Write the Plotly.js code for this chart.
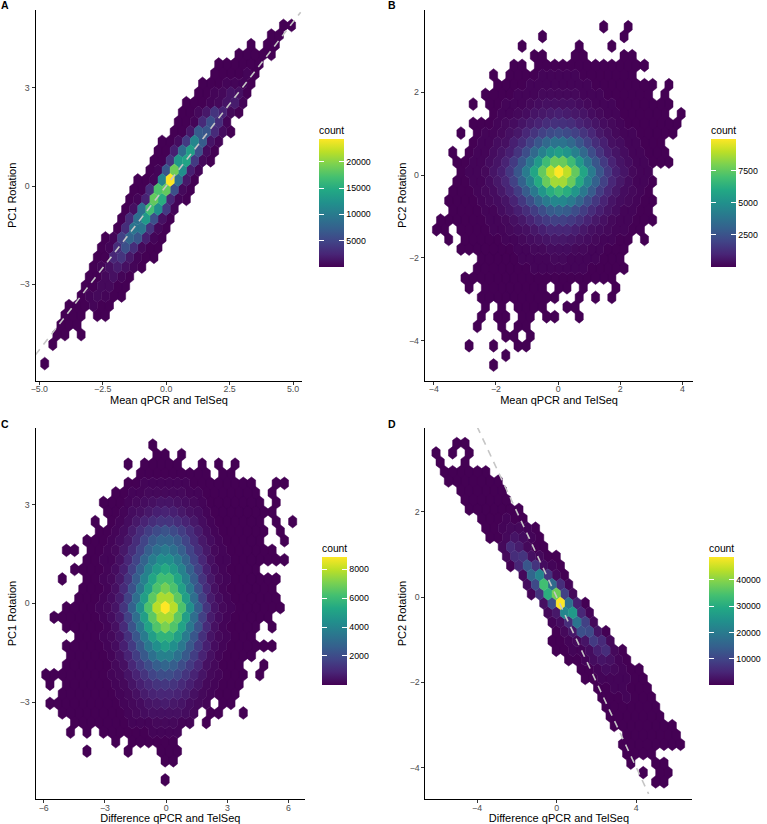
<!DOCTYPE html>
<html><head><meta charset="utf-8">
<script src="https://cdn.plot.ly/plotly-3.0.1.min.js"></script>
<style>html,body{margin:0;padding:0;background:#fff}</style></head>
<body><div id="chart" style="width:767px;height:824px"></div>
<script>
// Each row: [row index, [first half-column, count, count, ...], ...]; counts step two half-columns, 0 = empty bin.
const cellsA = [
[16,[28,3,5]],[15,[25,3,5]],[14,[20,8],[24,5,12]],[13,[17,6,10,15,25,12]],[12,[12,5,10,20,40,60,45]],
[11,[11,8,25,60,120,160,30]],[10,[8,5,20,60,200,350,300,80]],[9,[7,10,40,130,400,1200,900,100]],
[8,[4,5,15,50,200,500,1200,1800,200]],[7,[3,10,30,400,1600,3500,2200,400,100]],[6,[2,15,50,300,2800,5800,3200,200]],
[5,[1,15,80,1500,7000,6500,2800,700,80]],[4,[-2,5,30,800,4000,11000,7000,1200,150]],[3,[-3,10,50,2000,8500,13500,6000,800,100]],
[2,[-4,10,60,3500,13000,14000,4000,500,60]],[1,[-5,15,200,6500,19000,12000,2000,200]],[0,[-8,5,30,300,11000,24300,9000,1500,100]],
[-1,[-9,5,60,3000,17500,18500,6000,500,50]],[-2,[-10,8,200,2200,18500,15000,2500,300,30]],[-3,[-11,20,1000,9000,17000,12000,4000,300]],
[-4,[-12,15,3000,9000,13000,6000,1000,100]],[-5,[-13,100,3000,9500,9500,3500,500,50]],[-6,[-16,10,200,4500,8000,6500,2000,200,30]],
[-7,[-17,10,150,3000,6000,3000,500,80,15]],[-8,[-18,10,100,2500,3500,1500,300,50,10]],[-9,[-19,10,150,1000,1700,1000,150,20]],
[-10,[-20,8,100,500,900,300,40]],[-11,[-21,10,100,450,600,100,15]],[-12,[-22,15,150,400,200,40,5]],[-13,[-25,3,30,120,200,80,15]],
[-14,[-26,8,30,10],[-18,8,4]],[-15,[-27,8,15,5]],[-16,[-28,8,4],[-22,2]],[-17,[-29,3]],[-19,[-31,1]]
];
const cellsB = [
[15,[11,1],[17,1]],[14,[-4,1],[16,1]],[13,[-9,1],[5,2],[13,1]],[12,[-6,1,2],[4,2,3],[16,1,1]],
[11,[-11,1,2],[-5,3,5,7,8,8,7,6,5,4,3,2,2,1,1]],
[10,[-16,1],[-12,11,19,29,42,55,65,70,65,55,42,29,19,11,6,4,2]],
[9,[-15,10,17,29,48,70,97,122,137,137,122,97,70,48,29,17,10,6,3,2,1],[27,1]],
[8,[-18,6,13,23,42,70,109,156,203,242,260,242,203,156,109,70,42,23,13,6,3,2],[26,1]],
[7,[-21,2],[-17,16,32,54,95,153,225,310,392,441,441,392,310,225,153,95,54,32,16,8,4,2,1,1]],
[6,[-16,40,72,128,216,336,480,624,744,800,744,624,480,336,216,128,72,40,20,10,5,3,2],[30,1]],
[5,[-21,13,24,49,98,168,294,476,700,966,1218,1372,1372,1218,966,700,476,294,168,98,49,24,13,7,4,3,1]],
[4,[-24,1],[-20,29,60,120,216,384,648,1008,1440,1872,2232,2400,2232,1872,1440,1008,648,384,216,120,60,29,14,7,5,2]],
[3,[-21,34,65,133,266,456,798,1292,1900,2622,3306,3724,3724,3306,2622,1900,1292,798,456,266,133,65,34,19,11]],
[2,[-26,2],[-22,33,66,138,275,495,880,1485,2310,3300,4290,5115,5500,5115,4290,3300,2310,1485,880,495,275,138,66,33,22,11]],
[1,[-25,23,39,70,133,273,546,936,1638,2652,3900,5382,6786,7644,7644,6786,5382,3900,2652,1638,936,546,273,133,70,39,23,16]],
[0,[-24,39,58,116,243,485,873,1552,2619,4074,5820,7566,9021,9950,9021,7566,5820,4074,2619,1552,873,485,243,116,58]],
[-1,[-25,26,44,79,150,308,616,1056,1848,2992,4400,6072,7656,8624,8624,7656,6072,4400,2992,1848,1056,616,308,150,79,44]],
[-2,[-26,13,27,40,80,168,335,603,1072,1809,2814,4020,5226,6231,6700,6231,5226,4020,2814,1809,1072,603,335,168,80,40]],
[-3,[-27,9,14,24,42,80,165,329,564,987,1598,2350,3243,4089,4606,4606,4089,3243,2350,1598,987,564,329,165,80,42,24]],
[-4,[-26,6,12,18,36,75,150,270,480,810,1260,1800,2340,2790,3000,2790,2340,1800,1260,810,480,270,150,75,36,18]],
[-5,[-29,2,4,6,10,17,32,67,133,228,399,646,950,1311,1653,1862,1862,1653,1311,950,646,399,228,133,67,32,17,10]],
[-6,[-30,1,2],[-24,4,7,13,28,55,99,176,297,462,660,858,1023,1100,1023,858,660,462,297,176,99,55,28,13]],
[-7,[-27,1],[-23,3,5,10,21,42,72,126,204,300,414,522,588,588,522,414,300,204,126,72,42,21],[21,1]],
[-8,[-24,1,1],[-20,4,8,16,29,51,86,134,192,250,298,320,298,250,192,134,86,51,29,16]],
[-9,[-19,3,6,12,20,36,58,85,117,148,167,167,148,117,85,58,36,20,12]],
[-10,[-20,2,3,5,8,14,24,38,54,70,84,90,84,70,54,38,24,14,8,5]],
[-11,[-23,1,2,2,3,4,6,10,17,24,34,43,49,49,43,34,24,17,10,6]],
[-12,[-22,1],[-18,2,3,5,7,10,14,18,22],[0,26,24],[6,15],[14,1]],
[-13,[-19,1,2,3,4,6,8,10,12,14,15],[5,7],[9,3],[13,1]],
[-14,[-18,1],[-14,3],[-10,4,5,6,6],[2,5,4]],
[-15,[-19,1],[-15,2,2],[-9,3,3],[-3,3,3],[5,2]],
[-16,[-20,1],[-14,1],[-10,2,2]],[-17,[-13,1,1],[-7,1]],[-18,[-22,1],[-16,1],[-10,1,1]],[-19,[-13,1]],[-20,[-16,1]]
];
const cellsC = [
[17,[-3,1]],[16,[-2,2,2],[4,1]],[15,[-9,1],[-5,2,3,4,4,3],[9,1],[13,1],[17,1]],
[14,[-6,4,7,10,12,10,7,4,3,2],[14,1,1]],
[13,[-9,20,40,60,85,100,100,85,60,40,20,10,5,3,2,2,1],[27,1,1]],
[12,[-12,10,25,62,100,144,180,200,180,144,100,62,25,10,4,3,2,1,1],[26,1]],
[11,[-15,5,12,35,90,180,280,374,437,437,374,280,180,90,35,12,5,3,2,1,1],[27,1]],
[10,[-14,13,43,115,248,400,576,720,800,720,576,400,248,115,43,13,6,4,3,2,1,1]],
[9,[-17,1],[-13,40,110,270,520,806,1079,1261,1261,1079,806,520,270,110,40,15,8,5,3,2],[27,1],[31,1]],
[8,[-16,13,35,119,318,682,1100,1584,1980,2200,1980,1584,1100,682,318,119,35,13,8,5,3,2],[28,1]],
[7,[-19,9,14,35,87,244,600,1160,1798,2407,2813,2813,2407,1798,1160,600,244,87,35,14,9,5,4],[29,1]],
[6,[-24,1,1],[-18,13,22,58,194,520,1116,1800,2592,3240,3600,3240,2592,1800,1116,520,194,58,22,13,9,5,3,2]],
[5,[-19,14,22,54,135,378,930,1800,2790,3735,4365,4365,3735,2790,1800,930,378,135,54,22,14,8,5,3,2,1]],
[4,[-22,1,13,20,32,86,292,780,1674,2700,3888,4860,5400,4860,3888,2700,1674,780,292,86,32,20,13,8]],
[3,[-25,1],[-19,19,30,76,189,529,1304,2520,3906,5229,6111,6111,5229,3906,2520,1304,529,189,76,30,19,11,8,4,2]],
[2,[-20,17,25,42,112,378,1012,2170,3500,5040,6300,7000,6300,5040,3500,2170,1012,378,112,42,25,17,11,6,4]],
[1,[-21,14,24,38,96,240,672,1656,3200,4960,6640,7760,7760,6640,4960,3200,1656,672,240,96,38,24,14,10,5,2]],
[0,[-24,8,13,21,32,53,141,475,1272,2728,4400,6336,7920,8850,7920,6336,4400,2728,1272,475,141,53,32,21,13,8,5,3]],
[-1,[-27,2,5,10,14,24,38,96,240,672,1656,3200,4960,6640,7760,7760,6640,4960,3200,1656,672,240,96,38,24,14,10,5]],
[-2,[-24,6,11,17,26,43,114,383,1026,2201,3550,5112,6390,7100,6390,5112,3550,2201,1026,383,114,43,26,17,11],[26,3]],
[-3,[-21,11,18,28,71,177,496,1221,2360,3658,4897,5723,5723,4897,3658,2360,1221,496,177,71,28,18,11]],
[-4,[-24,5,8,12,18,29,78,265,708,1519,2450,3528,4410,4900,4410,3528,2450,1519,708,265,78,29,18,12,8,5,3]],
[-5,[-23,5,7,12,19,47,117,328,807,1560,2418,3237,3783,3783,3237,2418,1560,807,328,117,47,19,12,7]],
[-6,[-24,3,5,7,11,17,46,157,419,899,1450,2088,2610,2900,2610,2088,1450,899,419,157,46,17,11],[24,2]],
[-7,[-29,1,1],[-25,1,2,4,6,10,25,63,176,435,840,1302,1743,2037,2037,1743,1302,840,435,176,63,25,10,6],[23,1]],
[-8,[-28,1],[-24,1,2,3,5,8,22,76,202,434,700,1008,1260,1400,1260,1008,700,434,202,76,22,8,5]],
[-9,[-25,1,1,2,3,5,12,30,84,207,400,620,830,970,970,830,620,400,207,84,30,12,5]],
[-10,[-28,1,1,1,1,2,2,4,10,35,94,201,325,468,585,650,585,468,325,201,94],[14,10,4]],
[-11,[-25,1,1,1,1,2,5,12,34,83,160,248,332,388,388,332,248,160],[11,34,12],[19,1]],
[-12,[-22,1,1,1,2,4,9,25,56,90,130,162,180,162,130,90],[10,25]],
[-13,[-23,1],[-19,1],[-15,2,4,7,14,24,37,50,58,58,50]],
[-14,[-12,3],[-8,10,16,23,29,32,29]],[-15,[-19,1],[-9,2],[-1,10,10,8]],[-16,[0,3,2]],[-18,[0,1]]
];
const cellsD = [
[17,[-25,2,1]],[16,[-30,2],[-26,2],[-22,1]],[15,[-29,3],[-23,3]],[14,[-28,4,8,12,15,12,6]],
[13,[-27,5,15,30,40,40,25,8]],[12,[-24,30,50,70,70,40,10]],[11,[-23,40,70,100,100,60,15]],[10,[-22,30,70,120,160,130,60,10]],
[9,[-19,60,150,250,300,150,30]],[8,[-18,40,200,500,1000,800,300,30]],[7,[-17,20,100,1200,2500,1500,300,40]],
[6,[-14,800,5500,3500,1000,200,40]],[5,[-13,900,6000,7000,2000,800,150,30]],[4,[-12,100,5000,13000,7000,1500,300,40]],
[3,[-9,800,16000,22000,7000,800,60]],[2,[-8,1500,11000,34000,17000,6000,300]],[1,[-7,400,7000,31000,38000,9000,800]],
[0,[-4,2000,12000,48800,18000,4000,200]],[-1,[-3,1000,3000,22000,26000,5000,300]],[-2,[-2,300,1500,6000,19000,9000,800]],
[-3,[-1,150,800,3000,12000,11000,2500,100]],[-4,[-2,50,200,600,1000,2500,8000,5500,800]],[-5,[-1,60,150,300,600,1500,4000,6000,1200,60]],
[-6,[2,80,200,500,1500,2500,2000,300,50]],[-7,[5,100,250,600,1300,1000,400,150,30]],[-8,[6,80,200,450,700,600,300,100,20]],
[-9,[9,80,200,350,400,250,100,20]],[-10,[10,50,130,250,300,200,100,20]],[-11,[11,30,100,180,200,150,60,15]],
[-12,[12,15,60,120,150,100,50,15]],[-13,[13,5,30,70,90,80,50,20,5]],[-14,[16,20,50,60,50,40,20,5]],
[-15,[15,2,6,20,30,30,20,10,3]],[-16,[16,2,5,8,5]],[-17,[17,2],[23,2,2]],[-18,[20,1],[24,3,2]],[-19,[23,1,1]]
];
const countMax = {A:24350,B:9950,C:8850,D:48800};
const cbTicks = {A:[5000,10000,15000,20000],B:[2500,5000,7500],C:[2000,4000,6000,8000],D:[10000,20000,30000,40000]};
const refLineA = {x:[-5.15,5.3],y:[-5.15,5.3]};
const refLineD = {x:[-4,4.62],y:[4,-4.62]};
const xTitles = {A:'Mean qPCR and TelSeq',B:'Mean qPCR and TelSeq',C:'Difference qPCR and TelSeq',D:'Difference qPCR and TelSeq'};
const yTitles = {A:'PC1 Rotation',B:'PC2 Rotation',C:'PC1 Rotation',D:'PC2 Rotation'};
const M='\u2212';
const xTicks = {A:[[-5,-2.5,0,2.5,5],[M+'5.0',M+'2.5','0.0','2.5','5.0']],B:[[-4,-2,0,2,4],[M+'4',M+'2','0','2','4']],
  C:[[-6,-3,0,3,6],[M+'6',M+'3','0','3','6']],D:[[-4,0,4],[M+'4','0','4']]};
const yTicks = {A:[[-3,0,3],[M+'3','0','3']],B:[[-4,-2,0,2],[M+'4',M+'2','0','2']],
  C:[[-3,0,3],[M+'3','0','3']],D:[[-4,-2,0,2],[M+'4',M+'2','0','2']]};

// viridis
const viridis=['#440154','#482576','#414487','#35608D','#2A788E','#21908C','#22A884','#43BF71','#7AD151','#BBDF27','#FDE725'];
const scale=viridis.map((c,i)=>[i/(viridis.length-1),c]);
function hex2(c){return [1,3,5].map(i=>parseInt(c.substr(i,2),16));}
function colorAt(t){t=Math.max(0,Math.min(1,t))*(viridis.length-1);const i=Math.min(Math.floor(t),viridis.length-2),f=t-i,a=hex2(viridis[i]),b=hex2(viridis[i+1]);
  return 'rgb('+a.map((v,k)=>Math.round(v+(b[k]-v)*f)).join(',')+')';}

const W=767,H=824;
const FONT='"Liberation Sans",Arial,sans-serif';
// pixel frame of each panel, tick scale, bin grid
const panels = {
 A:{cells:cellsA,ax:'',  box:[35.7,304,10,380.7], xr:[-5.15,5.37], yr:[-5.94,5.37], grid:{x0:.157,hx:.1595,y0:.183,ry:.2948}, bar:[320,139], line:refLineA},
 B:{cells:cellsB,ax:'2', box:[427,697,10,380.7], xr:[-4.29,4.35], yr:[-4.97,3.99], grid:{x0:.022,hx:.1312,y0:.08,ry:.2336}, bar:[714,139]},
 C:{cells:cellsC,ax:'3', box:[35.7,306.7,428,799], xr:[-6.4,6.81], yr:[-5.94,5.32], grid:{x0:-.049,hx:.2016,y0:-.134,ry:.2904}, bar:[322.7,557]},
 D:{cells:cellsD,ax:'4', box:[427.7,696,428,799], xr:[-6.595,6.82], yr:[-4.74,3.967], grid:{x0:.185,hx:.2083,y0:-.148,ry:.2207}, bar:[712,557], line:refLineD}
};
const traces=[];
const layout={width:W,height:H,margin:{l:0,r:0,t:0,b:0},paper_bgcolor:'#fff',plot_bgcolor:'#fff',showlegend:false,
  font:{family:FONT,size:9,color:'#000'},annotations:[]};
const LEVELS=96;
for(const key of Object.keys(panels)){
  const p=panels[key],g=p.grid,xa='x'+p.ax,ya='y'+p.ax,max=countMax[key];
  const buckets={};
  const Rv=g.ry*2/3;
  for(const row of p.cells){
    const r=row[0];
    for(let s=1;s<row.length;s++){
      const seg=row[s];
      for(let i=1;i<seg.length;i++){
        const v=seg[i]; if(!v) continue;
        const cx=g.x0+(seg[0]+(i-1)*2)*g.hx, cy=g.y0+r*g.ry;
        const b=Math.round((v-1)/(max-1)*(LEVELS-1));
        const B=buckets[b]||(buckets[b]={x:[],y:[]});
        B.x.push(cx,cx+g.hx,cx+g.hx,cx,cx-g.hx,cx-g.hx,cx,null);
        B.y.push(cy+Rv,cy+Rv/2,cy-Rv/2,cy-Rv,cy-Rv/2,cy+Rv/2,cy+Rv,null);
      }
    }
  }
  for(const b of Object.keys(buckets).map(Number).sort((a,c)=>a-c)){
    const col=colorAt(b/(LEVELS-1));
    traces.push({type:'scatter',mode:'lines',x:buckets[b].x,y:buckets[b].y,xaxis:xa,yaxis:ya,fill:'toself',
      fillcolor:col,line:{width:0.5,color:col},hoverinfo:'skip',showlegend:false,connectgaps:false});
  }
  if(p.line) traces.push({type:'scatter',mode:'lines',x:p.line.x,y:p.line.y,xaxis:xa,yaxis:ya,
    line:{color:'#c6c6c6',width:1.6,dash:'7px,6px'},hoverinfo:'skip',showlegend:false});
  const barH=127.8, barW=26;
  const cby=1-(p.bar[1]+barH/2)/H;
  // colour bar with ticks on its right edge
  traces.push({type:'scatter',mode:'markers',x:[null],y:[null],xaxis:xa,yaxis:ya,hoverinfo:'skip',showlegend:false,
    marker:{color:[1,max],cmin:1,cmax:max,colorscale:scale,showscale:true,size:1,
      colorbar:{x:p.bar[0]/W,xanchor:'left',y:cby,yanchor:'middle',xpad:0,ypad:0,thickness:barW,thicknessmode:'pixels',
        len:barH,lenmode:'pixels',outlinewidth:0,borderwidth:0,bgcolor:'rgba(0,0,0,0)',tickvals:cbTicks[key],tickformat:'d',tickprefix:'\u00a0',
        ticks:'inside',ticklen:5,tickwidth:1,tickcolor:'#fff',tickfont:{size:8.8,color:'#000',family:FONT}}}});
  // white sliver whose outward ticks mirror the ticks on the bar's left edge
  traces.push({type:'scatter',mode:'markers',x:[null],y:[null],xaxis:xa,yaxis:ya,hoverinfo:'skip',showlegend:false,
    marker:{color:[1,max],cmin:1,cmax:max,colorscale:[[0,'#fff'],[1,'#fff']],showscale:true,size:1,
      colorbar:{x:(p.bar[0]-1)/W,xanchor:'left',y:cby,yanchor:'middle',xpad:0,ypad:0,thickness:1,thicknessmode:'pixels',
        len:barH,lenmode:'pixels',outlinewidth:0,borderwidth:0,bgcolor:'rgba(0,0,0,0)',tickvals:cbTicks[key],
        ticks:'outside',ticklen:6,tickwidth:1,tickcolor:'#fff',showticklabels:false}}});
  layout.annotations.push({xref:'paper',yref:'paper',x:p.bar[0]/W,y:1-(p.bar[1]-9)/H,xanchor:'left',yanchor:'middle',xshift:-1,
    text:'count',showarrow:false,font:{size:10.3,color:'#000'}});
  const xn='xaxis'+p.ax,yn='yaxis'+p.ax;
  const base={showgrid:false,zeroline:false,showline:true,linecolor:'#000',linewidth:1,ticks:'outside',ticklen:3,tickwidth:1,tickcolor:'#333',
    tickfont:{size:8.8,color:'#4d4d4d'},tickmode:'array',automargin:false};
  layout[xn]=Object.assign({},base,{domain:[p.box[0]/W,p.box[1]/W],range:p.xr,anchor:ya,tickvals:xTicks[key][0],ticktext:xTicks[key][1],ticklabelstandoff:-3,
    title:{text:xTitles[key],font:{size:11,color:'#000'},standoff:3}});
  layout[yn]=Object.assign({},base,{domain:[1-p.box[3]/H,1-p.box[2]/H],range:p.yr,anchor:xa,tickvals:yTicks[key][0],ticktext:yTicks[key][1],
    title:{text:yTitles[key],font:{size:11,color:'#000'},standoff:0}});
  layout.annotations.push({xref:'paper',yref:'paper',x:(p.box[0]<100?5:394)/W,y:1-(p.box[2]<100?5:424)/H,xanchor:'center',yanchor:'middle',
    text:'<b>'+key+'</b>',showarrow:false,font:{size:10.5,color:'#000'}});
}
Plotly.newPlot('chart',traces,layout,{displayModeBar:false,responsive:false,staticPlot:true});
</script></body></html>
